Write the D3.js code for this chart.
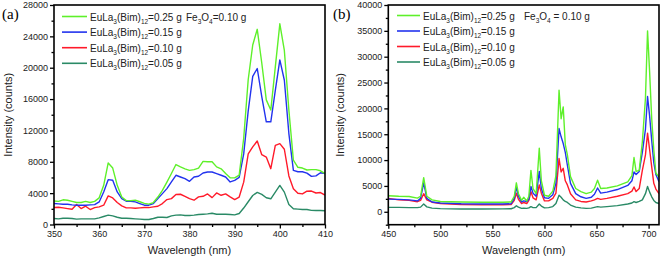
<!DOCTYPE html>
<html><head><meta charset="utf-8">
<script src="https://cdn.jsdelivr.net/npm/d3@7"></script>
<style>
html,body{margin:0;padding:0;background:#fff;}
svg{display:block;font-family:"Liberation Sans",Arial,sans-serif;}
</style></head><body>
<svg id="c" width="661" height="258"></svg>
<script>
// ---------- DATA ----------
const seriesNames = ["0.25 g", "0.15 g", "0.10 g", "0.05 g"];
const seriesColors = ["#5ef02a", "#2233ee", "#ff1a2a", "#2a8a66"];

// Panel (a)
const wavelengthsA = d3.range(350, 411); // 350..410 nm, 1 nm step
const greenA = [3000,2950,3150,3100,2950,2800,2800,2950,2800,2950,3400,5000,7850,7200,5000,3500,3050,3050,3100,2900,2700,2600,2800,3500,4350,5400,6500,7650,7350,7100,6900,7000,7200,8050,8000,8000,7350,7100,6500,5950,5950,6300,11000,18500,22900,24900,20600,15900,14600,20100,25600,22200,14600,8200,7300,7200,6950,7000,7000,6850,6500];
const blueA  = [2670,2630,2590,2590,2500,2460,2460,2460,2500,2540,2880,4150,5720,5640,4150,3300,2970,2970,2880,2670,2460,2460,2670,3300,3940,4580,5430,6280,6060,5850,5510,6060,6150,6570,6700,6700,6490,6280,6060,5430,5640,6000,9000,14500,18900,19900,16300,13100,13100,17100,21000,18400,11600,6900,6730,6730,6560,6140,6200,6600,6500];
const redA   = [2160,2200,2120,2030,1950,2540,2030,2330,1910,2160,2250,2460,3650,3390,2800,2370,2120,2120,2080,2120,2160,2160,2250,2330,2670,3180,3300,3820,3860,3600,3300,3100,3520,3600,3900,3430,4030,3730,3900,3520,3180,3500,5400,9000,9900,10650,8900,8600,7120,10100,10320,9600,6200,4570,3980,3900,4250,4270,4020,4080,3760];
const tealA  = [760,720,800,800,760,680,720,720,720,720,850,1020,1190,1100,930,800,800,760,720,680,640,640,760,930,930,890,1100,1190,1230,1140,1140,1190,1270,1310,1360,1440,1310,1310,1310,1270,1230,1400,2100,2900,3700,4100,3840,3410,3280,4130,4990,4130,2560,2000,1960,1920,1920,1800,1790,1790,1750];
const xTicksA = [350, 360, 370, 380, 390, 400, 410];
const xMinorA = [355, 365, 375, 385, 395, 405];
const yTicksA = [0, 4000, 8000, 12000, 16000, 20000, 24000, 28000];
const yMinorA = [2000, 6000, 10000, 14000, 18000, 22000, 26000];

// Panel (b)
const wavelengthsB = [450,460,470,478,481,484,487,492,500,520,540,560,568,571,573,575,578,580,583,585,587,589,592,595,597,600,604,608,611,614,616,618,620,622,625,630,635,640,645,648,651,654,660,670,680,684,686,688,691,694,697,699,701,703,705,707,710];
const greenB = [3100,3000,2950,2650,3000,6600,3000,2300,2000,1900,1850,1850,1900,3000,5600,3500,2200,2800,2100,3000,8000,4500,3500,12300,6000,3200,3000,4000,7000,23500,18000,20300,13000,11000,6800,4500,3900,3500,3800,4500,6100,4500,4600,5000,5800,7000,10500,7800,8000,13500,22000,35000,27000,18000,12000,7500,6700];
const blueB  = [2450,2400,2300,2100,2600,5600,2600,1900,1700,1550,1500,1500,1550,2600,4800,3000,1900,2100,2000,2400,4900,3600,3000,7800,4500,2700,2600,3300,5500,16100,14500,13200,11500,9000,5500,3500,2900,2600,2800,3400,4600,3600,3800,4300,5100,6000,7700,7200,7800,11500,16000,22300,18500,13800,9500,7200,5800];
const redB   = [2600,2300,2200,1950,2200,3500,2300,1850,1600,1400,1350,1350,1400,2200,3600,2400,1600,1800,1600,2200,3900,2700,2300,5200,3600,2100,2100,2600,3600,10300,7700,8400,6000,5200,3500,2300,2000,1900,2100,2300,2600,2400,2600,3000,3500,4000,4800,3900,4500,8000,11000,15200,12000,8700,5500,4400,3500];
const tealB  = [850,850,800,800,900,1500,950,700,600,550,550,560,580,800,1150,900,650,700,650,750,1000,800,800,1500,1100,750,800,1000,1600,3200,2800,2300,2000,1800,1300,900,750,650,700,850,1000,900,1000,1200,1500,1700,1950,1800,2000,2300,3500,4900,3800,2900,2200,1800,1600];
const xTicksB = [450, 500, 550, 600, 650, 700];
const xMinorB = [475, 525, 575, 625, 675];
const yTicksB = [0, 5000, 10000, 15000, 20000, 25000, 30000, 35000, 40000];
const yMinorB = [-2500, 2500, 7500, 12500, 17500, 22500, 27500, 32500, 37500];

// ---------- DRAW ----------
const svg = d3.select("#c");

function panel(cfg) {
  const x = d3.scaleLinear().domain(cfg.xDomain).range([cfg.left, cfg.right]);
  const y = d3.scaleLinear().domain(cfg.yDomain).range([cfg.bottom, cfg.top]);
  const g = svg.append("g");

  const clipId = "clip" + cfg.id;
  svg.append("clipPath").attr("id", clipId).append("rect")
    .attr("x", cfg.left).attr("y", cfg.top)
    .attr("width", cfg.right - cfg.left).attr("height", cfg.bottom - cfg.top);

  const line = d3.line().x((d, i) => x(cfg.xs[i])).y(d => y(d));
  [3, 2, 1, 0].forEach(k => {
    g.append("path").datum(cfg.series[k])
      .attr("clip-path", `url(#${clipId})`)
      .attr("fill", "none").attr("stroke", seriesColors[k])
      .attr("stroke-width", 1.4).attr("stroke-linejoin", "round")
      .attr("d", line);
  });

  g.append("rect").attr("x", cfg.left).attr("y", cfg.top)
    .attr("width", cfg.right - cfg.left).attr("height", cfg.bottom - cfg.top)
    .attr("fill", "none").attr("stroke", "#000").attr("stroke-width", 1.6);

  const xAxis = d3.axisBottom(x).tickValues(cfg.xTicks).tickSize(4).tickPadding(2).tickFormat(d3.format("d"));
  const xMinor = d3.axisBottom(x).tickValues(cfg.xMinor).tickSize(2.5).tickFormat("");
  const yAxis = d3.axisLeft(y).tickValues(cfg.yTicks).tickSize(4).tickPadding(2).tickFormat(d3.format("d"));
  const yMinor = d3.axisLeft(y).tickValues(cfg.yMinor).tickSize(2.5).tickFormat("");

  [[xAxis, "x"], [xMinor, "x"], [yAxis, "y"], [yMinor, "y"]].forEach(([ax, t]) => {
    const a = g.append("g")
      .attr("transform", t === "x" ? `translate(0,${cfg.bottom})` : `translate(${cfg.left},0)`)
      .call(ax);
    a.select(".domain").remove();
    a.selectAll(".tick line").attr("stroke", "#000").attr("stroke-width", 1.3);
    a.selectAll(".tick text").attr("fill", "#222").style("font-size", "9px");
  });

  g.append("text").attr("x", (cfg.left + cfg.right) / 2).attr("y", 254)
    .attr("text-anchor", "middle").style("font-size", "11px").attr("fill", "#222")
    .text("Wavelength (nm)");
  g.append("text").attr("transform", `translate(${cfg.ytitleX},${(cfg.top + cfg.bottom) / 2}) rotate(-90)`)
    .attr("text-anchor", "middle").style("font-size", "11px").attr("fill", "#222")
    .text("Intensity (counts)");

  g.append("text").attr("x", cfg.labelX).attr("y", 19)
    .style("font-family", "'Liberation Serif','DejaVu Serif',serif").style("font-size", "15px")
    .text(cfg.label);

  seriesNames.forEach((name, k) => {
    const yy = cfg.legY + k * cfg.legDy;
    g.append("line").attr("x1", cfg.legX).attr("x2", cfg.legX + cfg.legLen)
      .attr("y1", yy).attr("y2", yy).attr("stroke", seriesColors[k]).attr("stroke-width", 1.6);
    const t = g.append("text").attr("x", cfg.legX + cfg.legLen + 3).attr("y", yy + 4)
      .style("font-size", "10px").attr("fill", "#222");
    t.append("tspan").text("EuLa");
    t.append("tspan").text("3").style("font-size", "6.5px").attr("dy", 3);
    t.append("tspan").text("(Bim)").attr("dy", -3);
    t.append("tspan").text("12").style("font-size", "6.5px").attr("dy", 3);
    t.append("tspan").text("=" + name).attr("dy", -3);
  });
  const f = g.append("text").attr("x", cfg.feX).attr("y", cfg.legY + 4)
    .style("font-size", "10px").attr("fill", "#222");
  f.append("tspan").text("Fe");
  f.append("tspan").text("3").style("font-size", "6.5px").attr("dy", 3);
  f.append("tspan").text("O").attr("dy", -3);
  f.append("tspan").text("4").style("font-size", "6.5px").attr("dy", 3);
  f.append("tspan").text(cfg.feText).attr("dy", -3);
}

panel({
  id: "a", xs: wavelengthsA, series: [greenA, blueA, redA, tealA],
  xDomain: [350, 410], yDomain: [0, 28000],
  left: 54, right: 325, top: 5, bottom: 224.5,
  xTicks: xTicksA, xMinor: xMinorA, yTicks: yTicksA, yMinor: yMinorA,
  ytitleX: 12, label: "(a)", labelX: 2,
  legX: 62, legLen: 25, legY: 16.5, legDy: 15.6, feX: 186, feText: "=0.10 g"
});

panel({
  id: "b", xs: wavelengthsB, series: [greenB, blueB, redB, tealB],
  xDomain: [450, 710], yDomain: [-2500, 40000],
  left: 388.3, right: 659, top: 5, bottom: 224.7,
  xTicks: xTicksB, xMinor: xMinorB, yTicks: yTicksB, yMinor: yMinorB,
  ytitleX: 344, label: "(b)", labelX: 333,
  legX: 397, legLen: 23, legY: 15.5, legDy: 15.5, feX: 524, feText: " = 0.10 g"
});
</script>
</body></html>
